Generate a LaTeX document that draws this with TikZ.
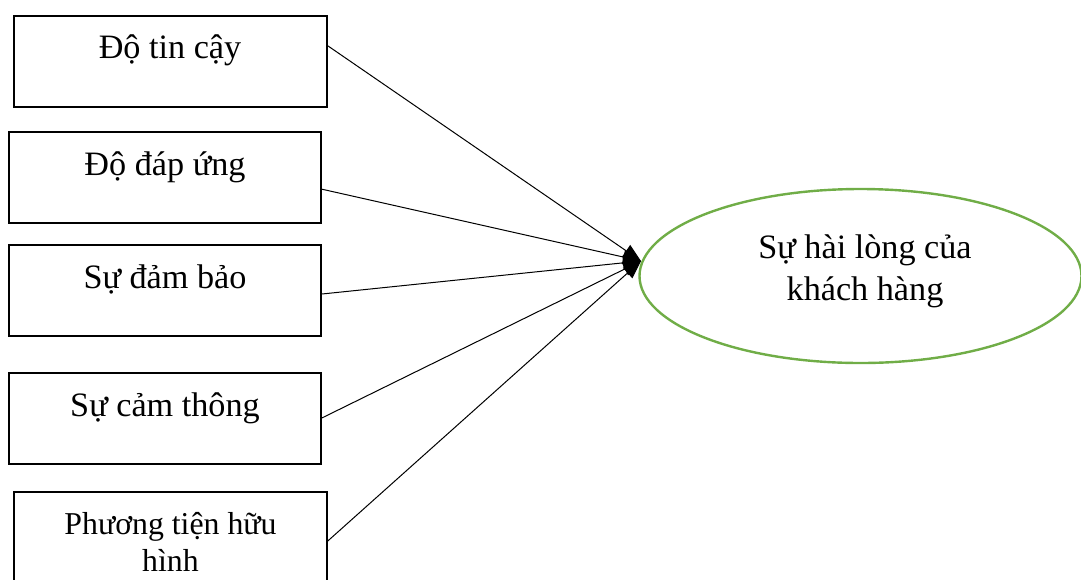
\documentclass[tikz,border=0pt]{standalone}
\usepackage{fontspec}
\setmainfont{Liberation Serif}
\usetikzlibrary{arrows.meta,calc,shapes.geometric}
\definecolor{ovalgreen}{RGB}{112,173,71}
\begin{document}
\begin{tikzpicture}[x=0.5pt,y=-0.5pt,
  factor/.style={draw,line width=0.75pt,minimum width=156pt,minimum height=45.5pt,inner sep=0pt},
  caption/.style={anchor=base,inner sep=0pt,font=\fontsize{17.1}{20}\selectfont},
  smallcaption/.style={anchor=base,inner sep=0pt,font=\fontsize{15.9}{19}\selectfont},
  link/.style={line width=0.5pt,-{Triangle[length=9pt,width=7pt]}},
  outcome/.style={ellipse,draw=ovalgreen,line width=1.2pt,minimum width=221pt,minimum height=87pt,inner sep=0pt}
]
\useasboundingbox (0,0) rectangle (1081,579);
\clip (0,0) rectangle (1081,579);

% factor boxes
\node[factor,minimum width=156.5pt] (b1) at (170.5,61.5) {};
\node[factor] (b2) at (165,177.5) {};
\node[factor] (b3) at (165,290.5) {};
\node[factor] (b4) at (165,418.5) {};
\node[factor,minimum width=156.5pt] (b5) at (170.5,537.5) {};

% factor captions
\node[caption] (t1) at (170,58) {Độ tin cậy};
\node[caption] (t2) at (165,175) {Độ đáp ứng};
\node[caption] (t3) at (165,288) {Sự đảm bảo};
\node[caption] (t4) at (165,416) {Sự cảm thông};
\node[smallcaption] (t5a) at (170.5,534) {Phương tiện hữu};
\node[smallcaption] (t5b) at (170.5,571) {hình};

% outcome
\node[outcome] (sat) at (860.5,276) {};
\node[caption] (s1) at (865,258) {Sự hài lòng của};
\node[caption] (s2) at (865,300) {khách hàng};

% meeting point of the arrows
\coordinate (hub) at (641,261);

\draw[link] ($(b1.north east)!0.33!(b1.south east)$) -- (hub);
\draw[link] ($(b2.north east)!0.626!(b2.south east)$) -- (hub);
\draw[link] ($(b3.north east)!0.538!(b3.south east)$) -- (hub);
\draw[link] ($(b4.north east)!0.495!(b4.south east)$) -- (hub);
\draw[link] ($(b5.north east)!0.538!(b5.south east)$) -- (hub);
\end{tikzpicture}
\end{document}
